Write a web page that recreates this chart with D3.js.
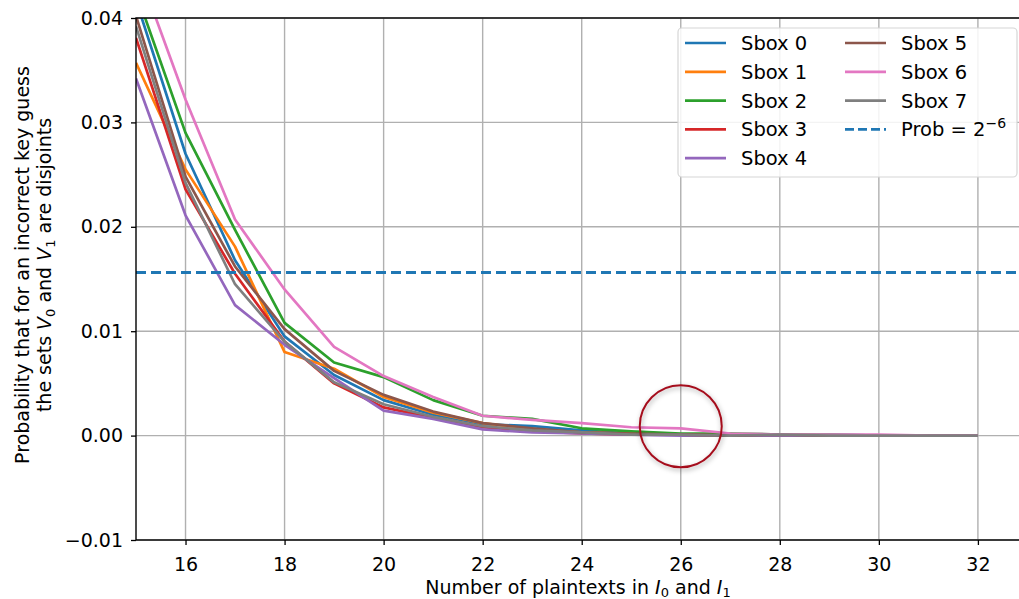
<!DOCTYPE html>
<html>
<head>
<meta charset="utf-8">
<script src="https://cdn.jsdelivr.net/npm/d3@7"></script>
<style>
  body { margin: 0; background: #fff; }
  svg { font-family: "DejaVu Sans", sans-serif; }
</style>
</head>
<body>
<svg id="chart" width="1019" height="599"></svg>
<script>
// number of plaintexts
const plaintexts = [15, 16, 17, 18, 19, 20, 21, 22, 23, 24, 25, 26, 27, 28, 29, 30, 31, 32];

const sbox0 = [0.0417, 0.0270, 0.0168, 0.0095, 0.0058, 0.0034, 0.0020, 0.0011, 0.0009, 0.0005, 0.0002, 0.0001, 0.0001, 0.0000, 0.0001, 0.0000, 0.0000, 0.0000];
const sbox1 = [0.0357, 0.0255, 0.0181, 0.0080, 0.0064, 0.0037, 0.0022, 0.0012, 0.0006, 0.0003, 0.0002, 0.0001, 0.0000, 0.0000, 0.0000, 0.0000, 0.0000, 0.0000];
const sbox2 = [0.0425, 0.0290, 0.0197, 0.0108, 0.0070, 0.0056, 0.0034, 0.0019, 0.0016, 0.0007, 0.0004, 0.0002, 0.0002, 0.0001, 0.0001, 0.0000, 0.0000, 0.0000];
const sbox3 = [0.0381, 0.0236, 0.0155, 0.0090, 0.0050, 0.0027, 0.0017, 0.0008, 0.0004, 0.0002, 0.0001, 0.0001, 0.0000, 0.0000, 0.0000, 0.0000, 0.0000, 0.0000];
const sbox4 = [0.0342, 0.0211, 0.0125, 0.0087, 0.0055, 0.0024, 0.0016, 0.0006, 0.0003, 0.0002, 0.0001, 0.0000, 0.0000, 0.0000, 0.0000, 0.0000, 0.0000, 0.0000];
const sbox5 = [0.0402, 0.0248, 0.0162, 0.0102, 0.0062, 0.0039, 0.0023, 0.0012, 0.0007, 0.0003, 0.0002, 0.0001, 0.0000, 0.0001, 0.0000, 0.0000, 0.0000, 0.0000];
const sbox6 = [0.0452, 0.0322, 0.0207, 0.0140, 0.0085, 0.0057, 0.0037, 0.0019, 0.0015, 0.0012, 0.0008, 0.0007, 0.0002, 0.0001, 0.0001, 0.0001, 0.0000, 0.0000];
const sbox7 = [0.0392, 0.0242, 0.0145, 0.0090, 0.0051, 0.0030, 0.0018, 0.0009, 0.0005, 0.0003, 0.0001, 0.0001, 0.0000, 0.0001, 0.0000, 0.0000, 0.0000, 0.0000];

const seriesNames = ['Sbox 0', 'Sbox 1', 'Sbox 2', 'Sbox 3', 'Sbox 4', 'Sbox 5', 'Sbox 6', 'Sbox 7'];
const seriesValues = [sbox0, sbox1, sbox2, sbox3, sbox4, sbox5, sbox6, sbox7];

const threshold = Math.pow(2, -6);   // Prob = 2^-6

const xTicks = [16, 18, 20, 22, 24, 26, 28, 30, 32];
const yTicks = [-0.01, 0.00, 0.01, 0.02, 0.03, 0.04];

const colors = d3.schemeCategory10;

const plotLeft = 136, plotRight = 1020, plotTop = 18, plotBottom = 540;

const svg = d3.select('#chart');

const x = d3.scaleLinear().domain([15, 32.85]).range([plotLeft, plotRight]);
const y = d3.scaleLinear().domain([-0.01, 0.04]).range([plotBottom, plotTop]);

// clip path for the plot area
const defs = svg.append('defs');
defs.append('clipPath')
   .attr('id', 'clip')
   .append('rect')
   .attr('x', plotLeft).attr('y', plotTop)
   .attr('width', plotRight - plotLeft).attr('height', plotBottom - plotTop);

const shadow = defs.append('filter')
   .attr('id', 'shadow').attr('x', '-30%').attr('y', '-30%').attr('width', '160%').attr('height', '160%');
shadow.append('feDropShadow')
   .attr('dx', 1).attr('dy', 2).attr('stdDeviation', 2.5)
   .attr('flood-color', '#000').attr('flood-opacity', 0.35);

// gridlines
const grid = svg.append('g');
grid.selectAll('.vg').data(xTicks).enter().append('line')
    .attr('x1', d => x(d)).attr('x2', d => x(d))
    .attr('y1', plotTop).attr('y2', plotBottom)
    .attr('stroke', '#b0b0b0').attr('stroke-width', 1.4);
grid.selectAll('.hg').data(yTicks).enter().append('line')
    .attr('x1', plotLeft).attr('x2', plotRight)
    .attr('y1', d => y(d)).attr('y2', d => y(d))
    .attr('stroke', '#b0b0b0').attr('stroke-width', 1.4);

const plot = svg.append('g').attr('clip-path', 'url(#clip)');

const line = d3.line()
    .x((d, i) => x(plaintexts[i]))
    .y(d => y(d));

seriesValues.forEach((vals, index) => {
    plot.append('path')
        .datum(vals)
        .attr('d', line)
        .attr('fill', 'none')
        .attr('stroke', colors[index])
        .attr('stroke-width', 2.7)
        .attr('stroke-linejoin', 'round');
});

// threshold line
plot.append('line')
    .attr('x1', plotLeft).attr('x2', plotRight)
    .attr('y1', y(threshold)).attr('y2', y(threshold))
    .attr('stroke', colors[0])
    .attr('stroke-width', 2.8)
    .attr('stroke-dasharray', '10,5');

// axes
const xAxis = svg.append('g')
    .attr('transform', `translate(0,${plotBottom})`)
    .call(d3.axisBottom(x).tickValues(xTicks).tickSize(5).tickPadding(13).tickFormat(d3.format('d')));
const yAxis = svg.append('g')
    .attr('transform', `translate(${plotLeft},0)`)
    .call(d3.axisLeft(y).tickValues(yTicks).tickSize(5).tickPadding(8).tickFormat(d3.format('.2f')));

[xAxis, yAxis].forEach(a => {
    a.select('.domain').remove();
    a.selectAll('.tick line').attr('stroke', '#000').attr('stroke-width', 1.3);
    a.selectAll('.tick text').attr('font-size', 19).attr('fill', '#000')
        .attr('font-family', '"DejaVu Sans", sans-serif');
});

// spines
svg.append('rect')
    .attr('x', plotLeft).attr('y', plotTop)
    .attr('width', plotRight - plotLeft).attr('height', plotBottom - plotTop)
    .attr('fill', 'none').attr('stroke', '#000').attr('stroke-width', 1.4);

// x label
const xl = svg.append('text')
    .attr('x', (plotLeft + plotRight) / 2).attr('y', 594)
    .attr('text-anchor', 'middle').attr('font-size', 19);
xl.append('tspan').text('Number of plaintexts in ');
xl.append('tspan').attr('font-style', 'italic').text('I');
xl.append('tspan').attr('font-size', 13).attr('dy', 3).text('0');
xl.append('tspan').attr('dy', -3).text(' and ');
xl.append('tspan').attr('font-style', 'italic').text('I');
xl.append('tspan').attr('font-size', 13).attr('dy', 3).text('1');

// y label (two lines)
const yl = svg.append('g').attr('transform', 'translate(0,265) rotate(-90)');
yl.append('text')
    .attr('x', 0).attr('y', 29)
    .attr('text-anchor', 'middle').attr('font-size', 19)
    .text('Probability that for an incorrect key guess');
const yl2 = yl.append('text')
    .attr('x', 0).attr('y', 51)
    .attr('text-anchor', 'middle').attr('font-size', 19);
yl2.append('tspan').text('the sets ');
yl2.append('tspan').attr('font-style', 'italic').text('V');
yl2.append('tspan').attr('font-size', 13).attr('dy', 4).text('0');
yl2.append('tspan').attr('dy', -4).text(' and ');
yl2.append('tspan').attr('font-style', 'italic').text('V');
yl2.append('tspan').attr('font-size', 13).attr('dy', 4).text('1');
yl2.append('tspan').attr('dy', -4).text(' are disjoints');

// highlight circle
svg.append('circle')
    .attr('cx', x(26)).attr('cy', y(0.0009)).attr('r', 41)
    .attr('fill', 'none')
    .attr('stroke', '#a5101f').attr('stroke-width', 2)
    .attr('filter', 'url(#shadow)');

// legend
const legend = svg.append('g');
legend.append('rect')
    .attr('x', 678).attr('y', 28).attr('width', 339).attr('height', 149)
    .attr('rx', 4)
    .attr('fill', '#fff').attr('fill-opacity', 0.85)
    .attr('stroke', '#d6d6d6').attr('stroke-width', 1.2);

const legendItems = seriesNames.map((name, i) => ({ name: name, color: colors[i], dashed: false }));
legendItems.push({ name: 'Prob', color: colors[0], dashed: true });

legendItems.forEach((item, i) => {
    const col = i < 5 ? 0 : 1;
    const row = i < 5 ? i : i - 5;
    const lx = col === 0 ? 685 : 845;
    const ly = 43 + row * 28.8;
    legend.append('line')
        .attr('x1', lx).attr('x2', lx + 41)
        .attr('y1', ly).attr('y2', ly)
        .attr('stroke', item.color).attr('stroke-width', 2.7)
        .attr('stroke-dasharray', item.dashed ? '9,4' : null);
    const t = legend.append('text')
        .attr('x', lx + 56).attr('y', ly + 7)
        .attr('font-size', 19.5);
    if (item.dashed) {
        t.append('tspan').text('Prob = 2');
        t.append('tspan').attr('font-size', 14).attr('dy', -8).text('−6');
    } else {
        t.text(item.name);
    }
});
</script>
</body>
</html>
